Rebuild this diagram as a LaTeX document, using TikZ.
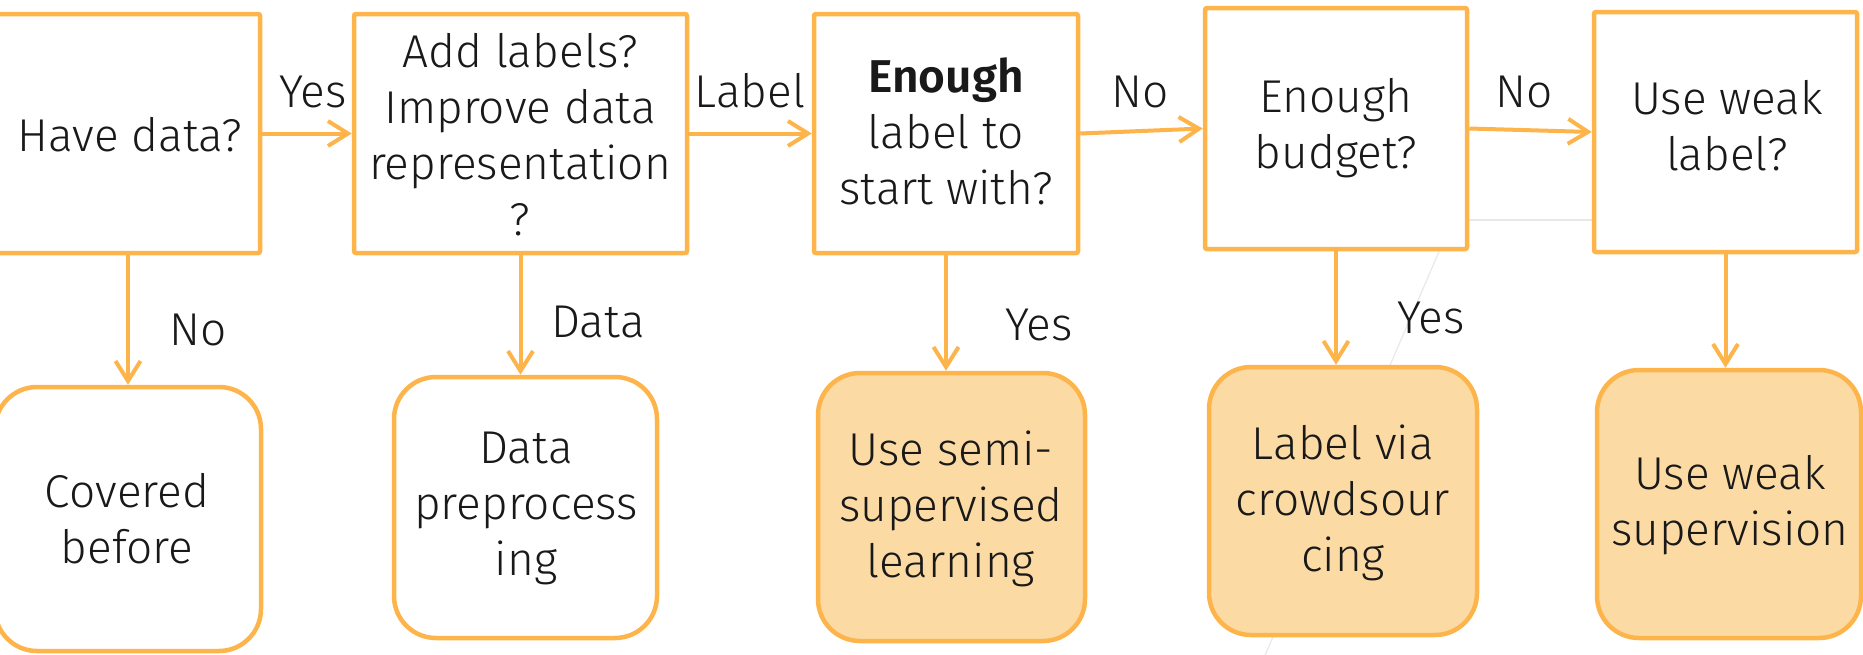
\documentclass[tikz,border=0pt]{standalone}
\usepackage{fontspec}
\setmainfont{Fira Sans Light}[BoldFont={Fira Sans SemiBold}]
\usetikzlibrary{arrows.meta}
\definecolor{orng}{RGB}{253,180,75}
\definecolor{peach}{RGB}{252,218,164}
\definecolor{faintgray}{RGB}{232,232,232}
\tikzset{
  qbox/.style={draw=orng, line width=4.5pt, fill=white, rounded corners=2pt, inner sep=0pt},
  abox/.style={draw=orng, line width=4.5pt, fill=white, rounded corners=42pt, inner sep=0pt},
  rbox/.style={abox, fill=peach},
  txt/.style={align=center, inner sep=0pt, text=black!90,
    font=\fontsize{46}{56}\selectfont,
    execute at begin node=\strut, execute at end node=\strut},
  lbl/.style={anchor=base, inner sep=0pt, text=black!90, font=\fontsize{46}{56}\selectfont},
  arr/.style={draw=orng, line width=4pt, -{Straight Barb[length=20pt,width=25pt,line width=4pt]}},
  faint/.style={draw=faintgray, line width=1.2pt}
}
\begin{document}
\begin{tikzpicture}[x=1pt,y=-1pt]
\useasboundingbox (0,0) rectangle (1863,654);
% faint background lines
\coordinate (f1) at (1444,240);
\coordinate (f2) at (1263,660);
\coordinate (f3) at (1467,220);
\coordinate (f4) at (1594,220);
\draw[faint] (f1) -- (f2);
\draw[faint] (f3) -- (f4);
% question boxes
\node[qbox, minimum width=264pt, minimum height=239pt] (b1) at (128,133.5) {};
\node[qbox, minimum width=333pt, minimum height=239pt] (b2) at (520.5,133.5) {};
\node[qbox, minimum width=264pt, minimum height=239pt] (b3) at (946,133.5) {};
\node[qbox, minimum width=262pt, minimum height=241pt] (b4) at (1336,128.5) {};
\node[qbox, minimum width=263pt, minimum height=240pt] (b5) at (1725.5,132) {};
% answer boxes
\node[abox, minimum width=266pt, minimum height=264pt] (c1) at (128,519) {};
\node[abox, minimum width=263pt, minimum height=261pt] (c2) at (525.5,507.5) {};
\node[rbox, minimum width=267pt, minimum height=268pt] (c3) at (951.5,507) {};
\node[rbox, minimum width=268pt, minimum height=268pt] (c4) at (1343,501) {};
\node[rbox, minimum width=264pt, minimum height=268pt] (c5) at (1729,504) {};
% texts
\node[txt] (t1) at (130,139.8) {Have data?};
\node[txt] (t2) at (520,142.8) {Add labels?\\Improve data\\representation\\?};
\node[txt] (t3) at (946,139.8) {\textbf{Enough}\\label to\\start with?};
\node[txt] (t4) at (1336,131.8) {Enough\\budget?};
\node[txt] (t5) at (1727,133.8) {Use weak\\label?};
\node[txt] (u1) at (127,526.8) {Covered\\before};
\node[txt] (u2) at (526,512.3) {Data\\preprocess\\ing};
\node[txt] (u3) at (951,512.3) {Use semi-\\supervised\\learning};
\node[txt] (u4) at (1343,506.3) {Label via\\crowdsour\\cing};
\node[txt] (u5) at (1730,508.8) {Use weak\\supervision};
% connectors
\draw[arr] (b1.east) -- (b1.east -| b2.west);
\draw[arr] (b2.east) -- (b2.east -| b3.west);
\draw[arr] (b3.east) -- (b4.west);
\draw[arr] (b4.east) -- (b5.west);
\draw[arr] (b1.south) -- (b1.south |- c1.north);
\draw[arr] (b2.south) -- (b2.south |- c2.north);
\draw[arr] (b3.south) -- (b3.south |- c3.north);
\draw[arr] (b4.south) -- (b4.south |- c4.north);
\draw[arr] (b5.south) -- (b5.south |- c5.north);
% connector labels
\node[lbl] (l1) at (313,107) {Yes};
\node[lbl] (l2) at (750,107) {Label};
\node[lbl] (l3) at (1140,107) {No};
\node[lbl] (l4) at (1524,107) {No};
\node[lbl] (l5) at (198,345) {No};
\node[lbl] (l6) at (598,337) {Data};
\node[lbl] (l7) at (1039,340) {Yes};
\node[lbl] (l8) at (1431,333) {Yes};
\end{tikzpicture}
\end{document}
